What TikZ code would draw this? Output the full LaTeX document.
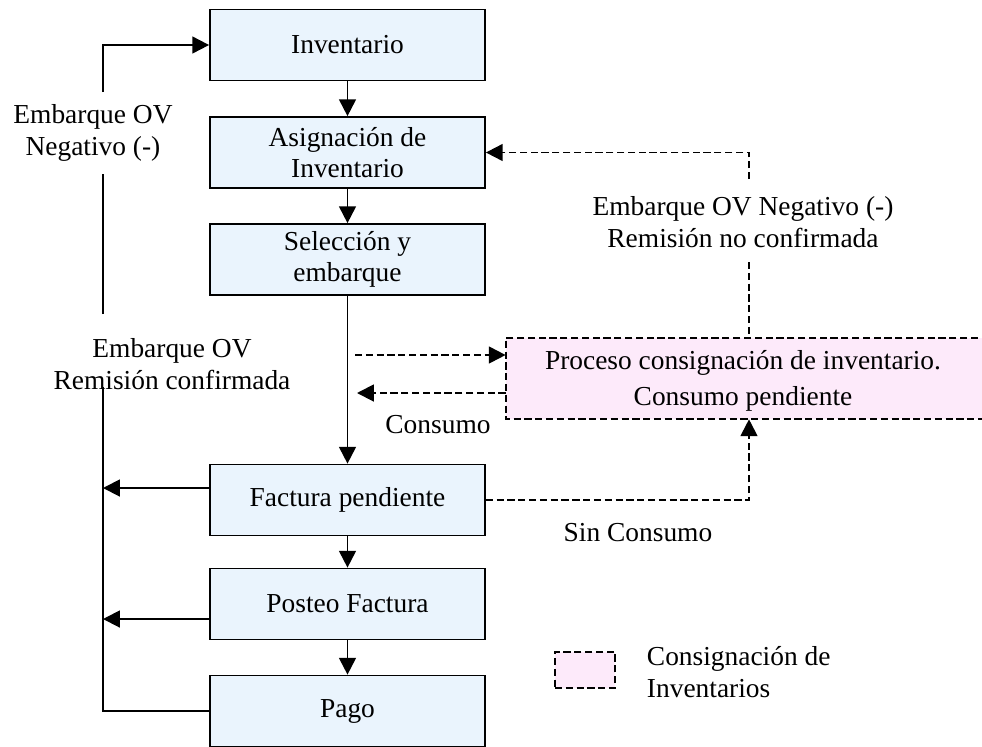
\documentclass[tikz,border=0pt]{standalone}
\usepackage{fontspec}
\setmainfont{Liberation Serif}
\usetikzlibrary{arrows.meta}
\definecolor{boxblue}{RGB}{234,244,253}
\definecolor{conspink}{RGB}{253,234,250}
\newcommand{\spX}{103}
\newcommand{\cnX}{749}
\newcommand{\fsz}{\fontsize{19.5pt}{22.5pt}\selectfont}

\begin{document}
\begin{tikzpicture}[x=0.025cm, y=-0.025cm,
	every node/.style={font=\fsz},
	etapa/.style={draw, line width=1.2pt, fill=boxblue, minimum width=6.875cm, minimum height=1.775cm, inner sep=0pt, align=center},
	consig/.style={draw, line width=1.3pt, fill=conspink, dash pattern=on 0.18cm off 0.09cm, inner sep=0pt, align=center},
	linea/.style={line width=1.4pt},
	flecha/.style={line width=1.4pt, -{Triangle[length=0.42cm,width=0.42cm]}},
	punteada/.style={dash pattern=on 0.18cm off 0.09cm}]

		\useasboundingbox (0,0) rectangle (982,746);

		% Etapas
		\node[etapa] (inv) at (347.5,45) {Inventario};
		\node[etapa] (asig) at (347.5,152.5) {Asignación de\\Inventario};
		\node[etapa] (sel) at (347.5,259.5) {Selección y\\embarque};
		\node[etapa] (fact) at (347.5,500) {Factura pendiente};
		\node[etapa] (post) at (347.5,604) {Posteo Factura};
		\node[etapa] (pago) at (347.5,711) {Pago};
		\draw[flecha] (inv) -- (asig);
		\draw[flecha] (asig) -- (sel);
		\draw[flecha] (sel) -- (fact);
		\draw[flecha] (fact) -- (post);
		\draw[flecha] (post) -- (pago);

		% Retorno izquierdo
		\node[align=center] (lblNeg) at (93,133) {Embarque OV\\Negativo (-)};
		\node[align=center] (lblRem) at (172,364) {Embarque OV\\Remisión confirmada};
		\coordinate (sp1) at (\spX,387);
		\coordinate (sp2) at (\spX,314);
		\coordinate (sp3) at (\spX,174);
		\coordinate (sp4) at (\spX,92);
		\draw[linea] (pago.west) -| (sp1);
		\draw[linea] (sp2) -- (sp3);
		\draw[flecha] (sp4) |- (inv.west);
		\draw[flecha] ([yshift=0.3cm]fact.west) -- ([yshift=0.3cm]fact.west -| sp1);
		\draw[flecha] ([yshift=-0.375cm]post.west) -- ([yshift=-0.375cm]post.west -| sp1);

		% Consignacion (open to the right)
		\node[fill=conspink, minimum width=12.6cm, minimum height=2.025cm, inner sep=0pt] (cons) at (758,378.5) {};
		\draw[linea, punteada] (cons.north east) -- (cons.north west) -- (cons.south west) -- (cons.south east);
		\node[align=center] (consTxt) at (743,381) {Proceso consignación de inventario.\\[3pt]Consumo pendiente};
		\node[align=center] (lblNo) at (743,222) {Embarque OV Negativo (-)\\Remisión no confirmada};
		\node (lblCon) at (438,425) {Consumo};
		\node (lblSin) at (638,533) {Sin Consumo};
		\coordinate (cn1) at (\cnX,179);
		\coordinate (cn2) at (\cnX,262);
		\coordinate (sl1) at (355,355);
		\coordinate (sl2) at (357,393);
		\draw[flecha, punteada] (cn1) |- (asig.east);
		\draw[linea, punteada] (cn2) -- (cn2 |- cons.north);
		\draw[flecha, punteada] (sl1) -- (sl1 -| cons.west);
		\draw[flecha, punteada] (sl2 -| cons.west) -- (sl2);
		\draw[flecha, punteada] (fact.east) -| (cn2 |- cons.south);

		% Leyenda
		\node[consig, minimum width=1.5cm, minimum height=0.9cm] (ley) at (585,670) {};
		\node[align=left, anchor=west] (leyTxt) at (642,672) {Consignación de\\Inventarios};
	\end{tikzpicture}
\end{document}
